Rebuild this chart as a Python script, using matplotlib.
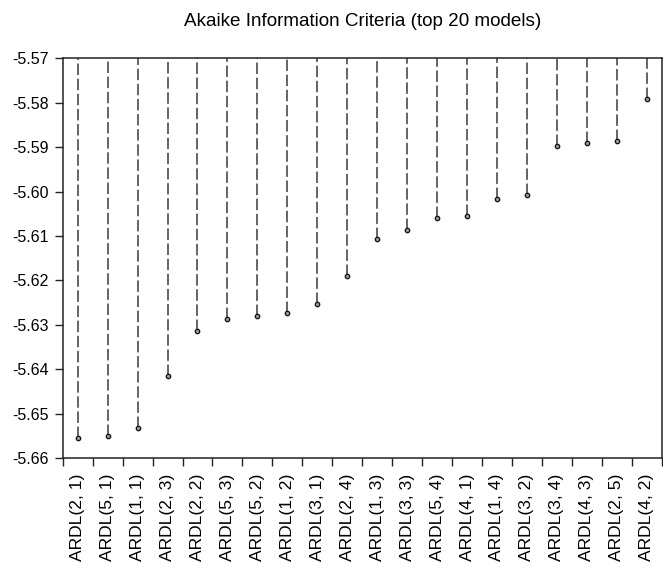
import matplotlib
matplotlib.use("Agg")
import matplotlib.pyplot as plt
import numpy as np
from matplotlib.ticker import FixedLocator, FormatStrFormatter

models = ["ARDL(2, 1)", "ARDL(5, 1)", "ARDL(1, 1)", "ARDL(2, 3)", "ARDL(2, 2)",
          "ARDL(5, 3)", "ARDL(5, 2)", "ARDL(1, 2)", "ARDL(3, 1)", "ARDL(2, 4)",
          "ARDL(1, 3)", "ARDL(3, 3)", "ARDL(5, 4)", "ARDL(4, 1)", "ARDL(1, 4)",
          "ARDL(3, 2)", "ARDL(3, 4)", "ARDL(4, 3)", "ARDL(2, 5)", "ARDL(4, 2)"]
aic = [-5.6556, -5.6550, -5.6533, -5.6415, -5.6314,
       -5.6287, -5.6280, -5.6274, -5.6253, -5.6191,
       -5.6107, -5.6087, -5.6059, -5.6054, -5.6016,
       -5.6008, -5.5898, -5.5890, -5.5886, -5.5791]
y_ticks = [-5.57, -5.58, -5.59, -5.60, -5.61, -5.62, -5.63, -5.64, -5.65, -5.66]

plt.rcParams['font.family'] = ['Liberation Sans', 'DejaVu Sans']

fig = plt.figure(figsize=(6.63, 5.70), dpi=100)
ax = fig.add_axes([0.0946, 0.1965, 0.9034, 0.7009])

top = max(y_ticks)
bottom = min(y_ticks)
x = np.arange(len(models))

ax.vlines(x, aic, top, colors='#3a3a3a', linewidth=1.1,
          linestyles=(0, (7.5, 2.4)))
ax.plot(x, aic, linestyle='none', marker='o', markersize=3.2,
        markerfacecolor='#9a9a9a', markeredgecolor='#111111',
        markeredgewidth=0.9, zorder=3)

ax.set_xlim(-0.5, len(models) - 0.5)
ax.set_ylim(bottom, top)
ax.set_yticks(y_ticks)
ax.yaxis.set_major_formatter(FormatStrFormatter('%.2f'))
ax.set_xticks(x)
ax.set_xticklabels(models, rotation=90)
ax.xaxis.set_minor_locator(FixedLocator(np.arange(-0.5, len(models), 1.0)))
ax.tick_params(axis='x', which='major', length=0, pad=11.5, labelsize=12.6)
ax.tick_params(axis='x', which='minor', length=6, width=1, direction='out', color='#222222')
ax.tick_params(axis='y', length=6, width=1, direction='out', labelsize=11.5, pad=4, color='#222222')

for s in ax.spines.values():
    s.set_linewidth(1.1)
    s.set_color('#222222')

fig.text(0.5468, 0.963, "Akaike Information Criteria (top 20 models)",
         ha='center', va='center', fontsize=13.6)

fig.savefig("out.png", dpi=100)
